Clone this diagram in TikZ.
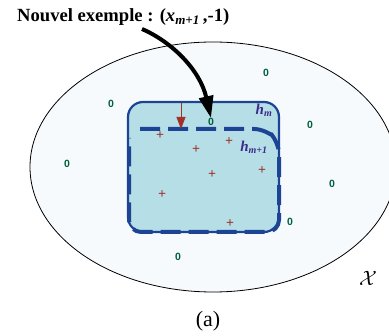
\documentclass[tikz,border=0pt]{standalone}
\usepackage{fontspec}
\setmainfont{Liberation Serif}
\setsansfont{Liberation Sans}
\usetikzlibrary{arrows.meta}
\definecolor{ellfill}{HTML}{F7FAFD}
\definecolor{boxfill}{HTML}{B6DEE6}
\definecolor{boxblue}{HTML}{1D4494}
\definecolor{lblcol}{HTML}{3B2A8A}
\definecolor{zgreen}{HTML}{00603C}
\definecolor{pred}{HTML}{A0322A}
\tikzset{
  zero/.style={text=zgreen, font=\fontsize{10.5}{10.5}\selectfont\sffamily\bfseries, inner sep=0pt},
  plus/.style={text=pred, font=\fontsize{14}{14}\selectfont\bfseries, inner sep=0pt},
  hlabel/.style={text=lblcol, font=\fontsize{15}{15}\selectfont\bfseries\itshape, inner sep=0pt},
}
\begin{document}
\begin{tikzpicture}[x=1pt,y=-1pt]
\useasboundingbox (0,0) rectangle (389,336);
% space X
\draw[black, line width=0.8pt, fill=ellfill] (213,167) ellipse [x radius=183, y radius=125];
% h_m region
\draw[boxblue, line width=2.2pt, fill=boxfill, rounded corners=15pt] (128,102) rectangle (279,232);
% h_{m+1}
\draw[boxblue, line width=4pt, dash pattern=on 20pt off 8pt, rounded corners=12pt] (140,129) -- (266,129) -- (279,142) -- (279,232) -- (129,232) -- (129,138) ;
% points
\node[zero] (z1) at (266,73) {0};
\node[zero] (z2) at (111,104) {0};
\node[zero] (znew) at (211,122) {0};
\node[zero] (z4) at (310,125) {0};
\node[zero] (z5) at (67,164) {0};
\node[zero] (z6) at (332,184) {0};
\node[zero] (z7) at (290,222) {0};
\node[zero] (z8) at (178,257) {0};
\node[plus] (p1) at (160,136) {+};
\node[plus] (p2) at (229,142) {+};
\node[plus] (p3) at (196,150) {+};
\node[plus] (p4) at (212,175) {+};
\node[plus] (p5) at (262,171) {+};
\node[plus] (p6) at (162,195) {+};
\node[plus] (p7) at (230,224) {+};
% labels
\node[hlabel] (hm) at (264,110) {h\textsubscript{\fontsize{10}{10}\selectfont m}};
\node[hlabel] (hm1) at (254,147) {h\textsubscript{\fontsize{10}{10}\selectfont m+1}};
% red shrink arrow
\coordinate (rs) at (181,103);
\coordinate (re) at (181,129);
\draw[pred, line width=0.8pt, -{Triangle[length=12pt, width=9pt]}] (rs) -- (re);
% title
\node[font=\fontsize{18.6}{20}\selectfont\bfseries, inner sep=0pt, anchor=west] (title) at (17,17)
  {Nouvel exemple : (\textit{x}\textsubscript{\textit{m+1}}\,,-1)};
\coordinate (as) at (142,29);
\draw[black, line width=4pt, -{Triangle[length=22pt, width=14pt]}] (as) .. controls (172,42) and (200,70) .. (znew.north);
% X label
\node[font=\fontsize{20}{20}\selectfont, inner sep=0pt] (X) at (368,278) {$\mathcal{X}$};
\node[font=\fontsize{22}{22}\selectfont, inner sep=0pt] (a) at (208,321) {(a)};
\end{tikzpicture}
\end{document}
